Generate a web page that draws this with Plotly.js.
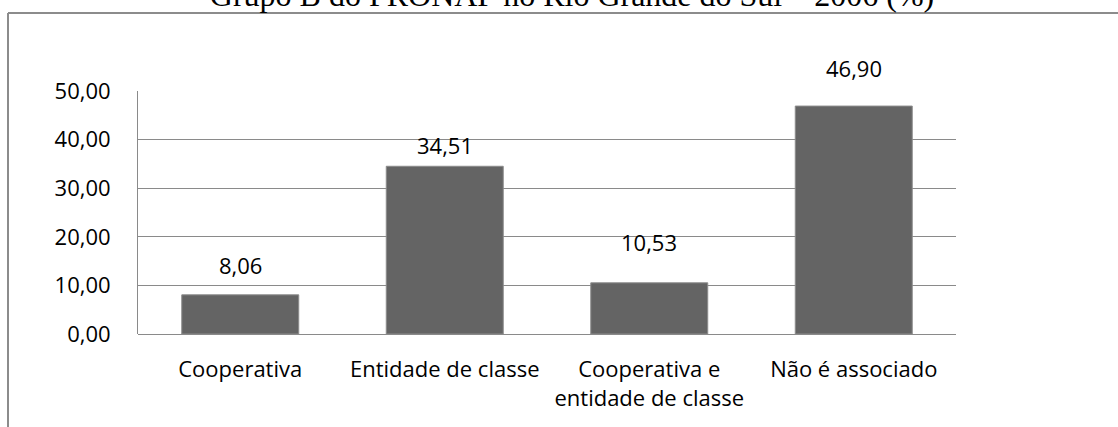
<!DOCTYPE html>
<html>
<head>
<meta charset="utf-8">
<script src="https://cdn.plot.ly/plotly-3.0.1.min.js"></script>
<style>html,body{margin:0;padding:0;background:#fff;}#chart{width:1118px;height:427px;}</style>
</head>
<body>
<div id="chart"></div>
<script>
// Data
const chartTitle = "Grupo B do PRONAF no Rio Grande do Sul – 2006 (%)";
const categories = ["Cooperativa", "Entidade de classe", "Cooperativa e entidade de classe", "Não é associado"];
const tickLabels = ["Cooperativa", "Entidade de classe", "Cooperativa e<br>entidade de classe", "Não é associado"];
const values = [8.06, 34.51, 10.53, 46.90];
const yTicks = [0, 10, 20, 30, 40, 50];

// Label lift above bar top (pixels), styling only
const labelLift = [13, 4, 24, 21];

const fmt = v => v.toFixed(2).replace('.', ',');
const axisFont = {family: "Open Sans, sans-serif", size: 22, color: "#000"};
const gridCol = "#8a8a8a";

const trace = {
  type: "bar",
  x: categories,
  y: values,
  marker: {color: "#646464", line: {color: "#8c8c8c", width: 1}},
  hoverinfo: "none"
};

// frame position in paper coords (plot area 138..956 x, 91..334 y)
const pw = 818, ph = 243;
const fx = (8 - 138) / pw, fy = 1 + (91 - 13) / ph;

const layout = {
  width: 1118, height: 427,
  margin: {l: 138, r: 162, t: 91, b: 93},
  paper_bgcolor: "#fff", plot_bgcolor: "#fff",
  showlegend: false,
  separators: ",.",
  bargap: 0.428,
  title: {
    text: chartTitle,
    font: {family: "Liberation Serif, Times New Roman, serif", size: 32, color: "#000"},
    x: 572 / 1118, xanchor: "center", xref: "container",
    y: 1 - 6 / 427, yanchor: "bottom", yref: "container"
  },
  xaxis: {
    type: "category",
    tickmode: "array", tickvals: categories, ticktext: tickLabels,
    tickfont: axisFont, ticks: "", showgrid: false, showline: false,
    ticklabelstandoff: 20, fixedrange: true
  },
  yaxis: {
    range: [0, 50], tickmode: "array", tickvals: yTicks,
    tickformat: ".2f", tickfont: axisFont, ticks: "",
    showgrid: true, gridcolor: gridCol, gridwidth: 1,
    zeroline: true, zerolinecolor: gridCol, zerolinewidth: 1,
    showline: true, linecolor: gridCol, linewidth: 1,
    ticklabelstandoff: 22, fixedrange: true
  },
  annotations: values.map((v, i) => ({
    x: categories[i], y: v, xref: "x", yref: "y",
    text: fmt(v), showarrow: false, yanchor: "bottom",
    yshift: labelLift[i], font: axisFont
  })),
  shapes: [
    {type: "line", xref: "paper", yref: "paper", x0: fx, x1: fx, y0: -1, y1: fy, line: {color: "#8c8c8c", width: 2}},
    {type: "line", xref: "paper", yref: "paper", x0: fx, x1: 2, y0: fy, y1: fy, line: {color: "#8c8c8c", width: 2}}
  ]
};

Plotly.newPlot("chart", [trace], layout, {displayModeBar: false, staticPlot: true});
</script>
</body>
</html>
